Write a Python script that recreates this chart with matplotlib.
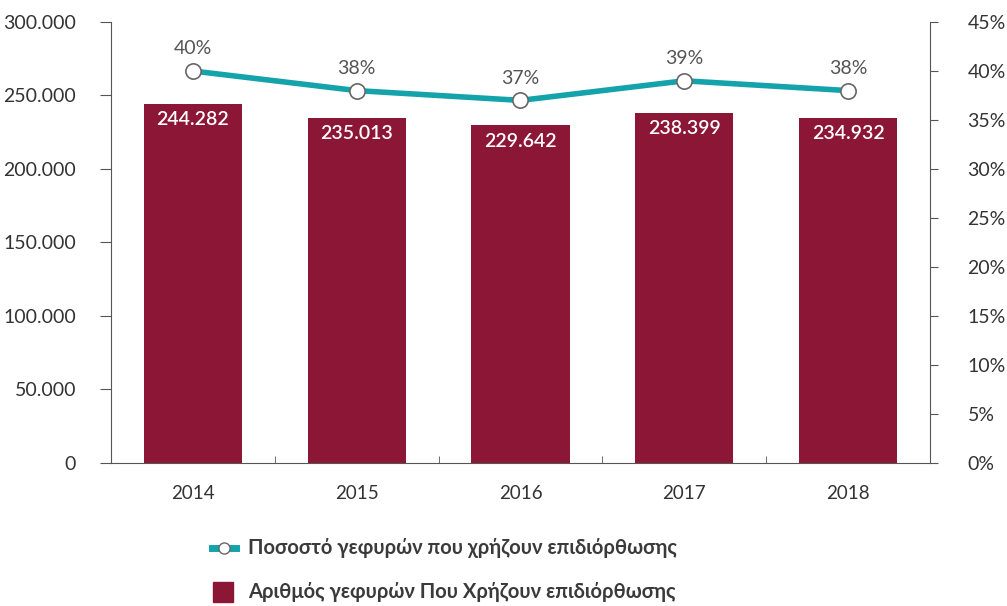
import numpy as np
import matplotlib.pyplot as plt
from matplotlib.lines import Line2D
from matplotlib.patches import Rectangle

# ── data ──────────────────────────────
years = ['2014', '2015', '2016', '2017', '2018']
bridges = [244282, 235013, 229642, 238399, 234932]
percent = [40, 38, 37, 39, 38]

bar_color = '#8c1636'
line_color = '#14a3aa'
text_color = '#333333'

plt.rcParams['font.family'] = ['Lato', 'DejaVu Sans']

fig = plt.figure(figsize=(10.07, 6.06), dpi=100)
ax = fig.add_axes([0.1102, 0.236, 0.8133, 0.7277])
x = np.arange(len(years))

bars = ax.bar(x, bridges, width=0.6, color=bar_color, zorder=2)
for xi, v in zip(x, bridges):
    lab = f'{v:,}'.replace(',', '.')
    ax.text(xi, v - 5000, lab, ha='center', va='top', color='white',
            fontsize=14, fontweight='semibold')

yt = np.arange(0, 300001, 50000)
ax.set_xlim(-0.5, len(years) - 0.5)
ax.set_ylim(0, 300000)
ax.set_yticks(yt)
ax.set_yticklabels([f'{int(t):,}'.replace(',', '.') for t in yt])
ax.set_xticks(x)
ax.set_xticklabels(years)
ax.set_xticks(np.arange(0.5, len(years) - 1, 1), minor=True)
ax.tick_params(axis='x', which='major', length=0, pad=16, labelsize=13.5, labelcolor=text_color)
ax.tick_params(axis='x', which='minor', length=5, direction='in', color='#555555')
ax.tick_params(axis='y', length=8, color='#555555', labelsize=14, labelcolor=text_color, pad=17)
for s in ['top', 'right']:
    ax.spines[s].set_visible(False)
ax.spines['left'].set_color('#555555')
ax.spines['bottom'].set_color('#555555')

ax2 = ax.twinx()
ax2.plot(x, percent, color=line_color, lw=4, marker='o', ms=11,
         mfc='white', mec='#666666', mew=1.2, zorder=3)
for xi, p in zip(x, percent):
    ax2.text(xi, p + 1.4, f'{p}%', ha='center', va='bottom', color='#555555', fontsize=14)
ax2.set_ylim(0, 45)
ax2.set_yticks(np.arange(0, 46, 5))
ax2.set_yticklabels([f'{t}%' for t in range(0, 46, 5)])
ax2.tick_params(axis='y', length=6, color='#555555', labelsize=14, labelcolor=text_color, pad=21)
for s in ['top', 'left', 'bottom']:
    ax2.spines[s].set_visible(False)
ax2.spines['right'].set_color('#555555')

# ── legend (drawn in figure coords) ──
fig.add_artist(Line2D([212 / 1007, 236 / 1007], [1 - 548 / 606] * 2, color=line_color,
                      lw=5, transform=fig.transFigure))
fig.add_artist(Line2D([224 / 1007], [1 - 548 / 606], marker='o', ms=8, mfc='white',
                      mec='#666666', mew=1, transform=fig.transFigure))
fig.text(248 / 1007, 1 - 548 / 606, 'Ποσοστό γεφυρών που χρήζουν επιδιόρθωσης',
         va='center', ha='left', fontsize=14.5, color='#3a3a3a', fontweight='bold')
fig.add_artist(Rectangle((213 / 1007, 1 - 602 / 606), 20 / 1007, 20 / 606,
                         color=bar_color, transform=fig.transFigure))
fig.text(248 / 1007, 1 - 592 / 606, 'Αριθμός γεφυρών Που Χρήζουν επιδιόρθωσης',
         va='center', ha='left', fontsize=14.5, color='#3a3a3a', fontweight='bold')

fig.savefig('out.png', dpi=100)
